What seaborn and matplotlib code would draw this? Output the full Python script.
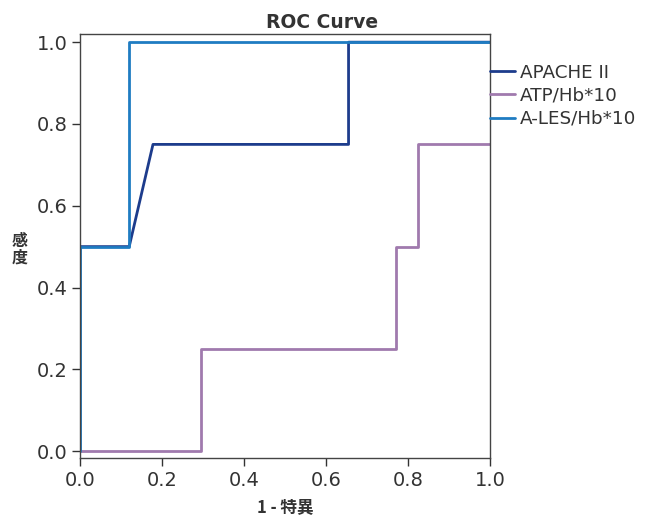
import matplotlib
matplotlib.use("Agg")
import matplotlib.pyplot as plt
import seaborn as sns
import pandas as pd

# Data (ROC step curves)
apache_x = [0.0, 0.0, 0.12, 0.178, 0.655, 0.655, 1.0]
apache_y = [0.0, 0.5, 0.5, 0.75, 0.75, 1.0, 1.0]
atp_x = [0.0, 0.296, 0.296, 0.77, 0.77, 0.825, 0.825, 1.0]
atp_y = [0.0, 0.0, 0.25, 0.25, 0.5, 0.5, 0.75, 0.75]
ales_x = [0.0, 0.0, 0.12, 0.12, 1.0]
ales_y = [0.0, 0.5, 0.5, 1.0, 1.0]
series_names = ["APACHE II", "ATP/Hb*10", "A-LES/Hb*10"]
colors = ["#1d3c8c", "#a07aae", "#1f7cc2"]

frames = []
for name, xs, ys in zip(series_names, [apache_x, atp_x, ales_x], [apache_y, atp_y, ales_y]):
    frames.append(pd.DataFrame({"x": xs, "y": ys, "series": name, "order": range(len(xs))}))
df = pd.concat(frames, ignore_index=True)

sns.set_style("white")
plt.rcParams["font.family"] = ["DejaVu Sans", "Noto Sans CJK JP"]

fig = plt.figure(figsize=(6.51, 5.22), dpi=100)
ax = fig.add_axes([80/651, 1-458/522, 410/651, 424/522])

sns.lineplot(data=df, x="x", y="y", hue="series", hue_order=series_names,
             palette=dict(zip(series_names, colors)), sort=False, estimator=None,
             units="series", linewidth=2.0, ax=ax)

ax.set_xlim(0, 1.0)
ax.set_ylim(-0.017, 1.02)
ax.set_xticks([0.0, 0.2, 0.4, 0.6, 0.8, 1.0])
ax.set_yticks([0.0, 0.2, 0.4, 0.6, 0.8, 1.0])
ax.set_xticklabels(["0.0", "0.2", "0.4", "0.6", "0.8", "1.0"])
ax.set_yticklabels(["0.0", "0.2", "0.4", "0.6", "0.8", "1.0"])
ax.tick_params(axis="both", which="both", direction="out", length=6, width=1,
               color="#333333", labelsize=14, left=True, bottom=True, pad=3,
               labelcolor="#333333")
for s in ax.spines.values():
    s.set_color("#444444")
    s.set_linewidth(1.0)

ax.set_title("ROC Curve", fontsize=13.5, fontweight="bold", color="#333333", pad=4)
ax.title.set_x((322 - 80) / 410)
ax.set_xlabel("1 - 特異", fontsize=12, fontweight="bold", color="#333333",
              family=["Noto Sans CJK JP", "DejaVu Sans"], labelpad=6)
ax.set_ylabel("感\n度", fontsize=11.5, fontweight="bold", color="#333333", rotation=0,
              family=["Noto Sans CJK JP", "DejaVu Sans"], linespacing=1.05,
              va="center", ha="center")
ax.yaxis.set_label_coords(-0.148, 0.493)

leg = ax.legend(loc="upper left", bbox_to_anchor=(1.0, 0.93), frameon=False,
                borderaxespad=0, borderpad=0, handlelength=1.35, handletextpad=0.3,
                labelspacing=0.28, fontsize=13.2)
for t in leg.get_texts():
    t.set_color("#333333")

fig.savefig("out.png", dpi=100)
